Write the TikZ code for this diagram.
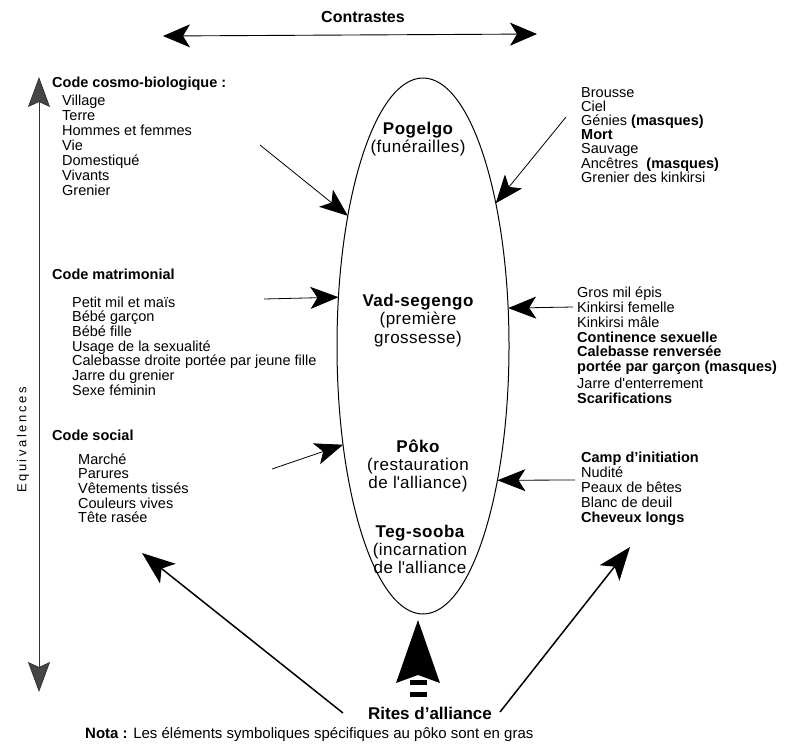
\documentclass[tikz,border=0pt]{standalone}
\usepackage{fontspec}
\setmainfont{Liberation Sans}
\newfontfamily\ellfont[LetterSpace=3]{Liberation Sans}
\newfontfamily\eqfont[LetterSpace=20]{Liberation Sans}
\usetikzlibrary{arrows.meta,shapes.geometric}
\tikzset{greytip/.tip={Stealth[length=30pt,width=22pt,inset=5pt,fill=gray!55!black,color=black!80]}}
\begin{document}
\begin{tikzpicture}[x=1pt,y=-1pt,
  txt/.style={anchor=base west,inner sep=0pt,font=\fontsize{14.5}{15}\selectfont},
  hd/.style={anchor=base west,inner sep=0pt,font=\fontsize{14.5}{15}\selectfont\bfseries},
  el/.style={anchor=base,inner sep=0pt,font=\fontsize{17}{18}\ellfont},
  elb/.style={anchor=base,inner sep=0pt,font=\fontsize{17}{18}\ellfont\bfseries},
  arr/.style={line width=0.8pt,-{Stealth[length=28pt,width=22pt,inset=7pt]}},
  bigarr/.style={line width=1.5pt,-{Stealth[length=33pt,width=25pt,inset=8pt]}},
]
\useasboundingbox (0,0) rectangle (791,748);

% title and horizontal arrow
\node[inner sep=0pt,font=\fontsize{16}{16}\selectfont\bfseries] (contr) at (363,17) {Contrastes};
\coordinate (cl) at (163,36);
\coordinate (cr) at (537,34);
\draw[line width=0.9pt,{Stealth[length=27pt,width=23pt,inset=7pt]}-{Stealth[length=27pt,width=23pt,inset=7pt]}] (cl) -- (cr);

% vertical arrow
\coordinate (vt) at (39,77);
\coordinate (vb) at (39,692);
\draw[gray!40!black,line width=0.8pt,greytip-greytip] (vt) -- (vb);
\node[rotate=90,inner sep=0pt,font=\fontsize{13}{13}\eqfont] (eq) at (23,440) {Equivalences};

% ellipse
\node[draw,ellipse,minimum width=172pt,minimum height=536pt,inner sep=0pt,outer sep=0pt,line width=1pt] (ell) at (423,346) {};
\node[elb] (e1) at (418,134) {Pogelgo};
\node[el]  (e2) at (418,152) {(funérailles)};
\node[elb] (e3) at (418,306) {Vad-segengo};
\node[el]  (e4) at (418,324.5) {(première};
\node[el]  (e5) at (418,343) {grossesse)};
\node[elb] (e6) at (418,452) {Pôko};
\node[el]  (e7) at (418,470.5) {(restauration};
\node[el]  (e8) at (418,488.5) {de l\textquotesingle alliance)};
\node[elb] (e9) at (420,537) {Teg-sooba};
\node[el]  (e10) at (420,555.5) {(incarnation};
\node[el]  (e11) at (420,573.5) {de l\textquotesingle alliance};

% left texts
\node[hd] (h1) at (52,87) {Code cosmo-biologique :};
\foreach \t [count=\i] in {Village,Terre,Hommes et femmes,Vie,Domestiqué,Vivants,Grenier}
  \node[txt] (a\i) at (62,{90+15*\i}) {\t};
\node[hd] (h2) at (52,279) {Code matrimonial};
\foreach \t [count=\i] in {Petit mil et maïs,Bébé garçon,Bébé fille,Usage de la sexualité,Calebasse droite portée par jeune fille,Jarre du grenier,Sexe féminin}
  \node[txt] (b\i) at (72,{292.3+14.7*\i}) {\t};
\node[hd] (h3) at (52,440) {Code social};
\foreach \t [count=\i] in {Marché,Parures,Vêtements tissés,Couleurs vives,Tête rasée}
  \node[txt] (c\i) at (78,{449.3+14.7*\i}) {\t};

% right texts
\foreach \t [count=\i] in {Brousse,Ciel,{Génies \textbf{(masques)}},\textbf{Mort},Sauvage,{Ancêtres\ \ \textbf{(masques)}},Grenier des kinkirsi}
  \node[txt] (d\i) at (581,{82.8+14.2*\i}) {\t};
\foreach \y/\t [count=\i] in {297/Gros mil épis,312/Kinkirsi femelle,327/Kinkirsi mâle,342/\textbf{Continence sexuelle},356/\textbf{Calebasse renversée},371/\textbf{portée par garçon (masques)},388/Jarre d\textquotesingle enterrement,403/\textbf{Scarifications}}
  \node[txt] (f\i) at (577,\y) {\t};
\foreach \t [count=\i] in {\textbf{Camp d’initiation},Nudité,Peaux de bêtes,Blanc de deuil,\textbf{Cheveux longs}}
  \node[txt] (g\i) at (581,{447+15*\i}) {\t};

% arrows into ellipse
\coordinate (s1) at (260,145);
\draw[arr] (s1) -- (ell.120.4);
\coordinate (s2) at (566,117);
\draw[arr] (s2) -- (ell.63.4);
\coordinate (s3) at (264,299);
\draw[arr] (s3) -- (ell.150.9);
\coordinate (s4) at (573,307);
\draw[arr] (s4) -- (ell.24.8);
\coordinate (s5) at (272,469);
\draw[arr] (s5) -- (ell.231.4);
\coordinate (s6) at (575,480);
\draw[arr] (s6) -- (ell.299.1);

% bottom
\node[inner sep=1pt,font=\fontsize{17}{17}\selectfont\bfseries] (rites) at (430,713) {Rites d’alliance};
\coordinate (rb) at (418,697);
\draw[line width=17pt,dash pattern=on 5pt off 7pt,shorten >=6pt,-{Stealth[length=63pt,width=44pt,inset=8pt,line width=0pt]}] (rb) -- (rb |- ell.south);
\coordinate (l1) at (343,713);
\coordinate (l2) at (142,553);
\draw[bigarr] (l1) -- (l2);
\coordinate (r1) at (500,712);
\coordinate (r2) at (630,547);
\draw[bigarr] (r1) -- (r2);

\node[anchor=base west,inner sep=0pt,font=\fontsize{15}{15}\selectfont] (nota) at (85,738) {\textbf{Nota :} Les éléments symboliques spécifiques au pôko sont en gras};
\end{tikzpicture}
\end{document}
